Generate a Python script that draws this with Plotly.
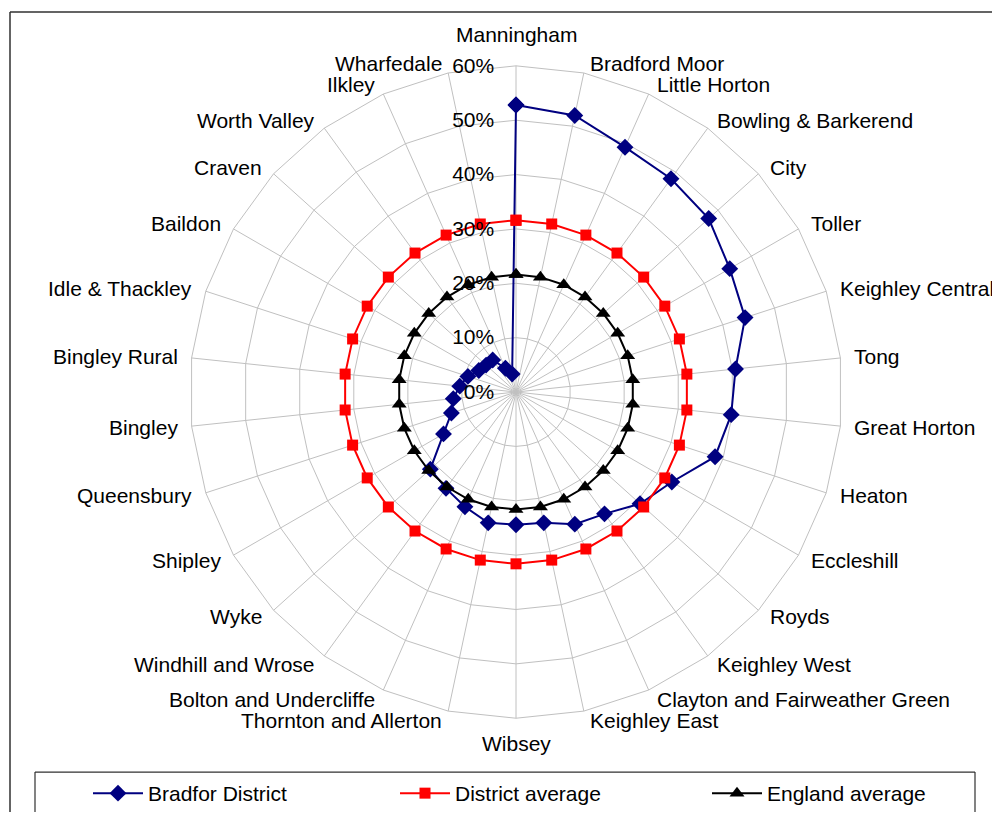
import math
import plotly.graph_objects as go

# Wards of Bradford District, clockwise from the top
wards = [
    "Manningham", "Bradford Moor", "Little Horton", "Bowling & Barkerend", "City",
    "Toller", "Keighley Central", "Tong", "Great Horton", "Heaton",
    "Eccleshill", "Royds", "Keighley West", "Clayton and Fairweather Green", "Keighley East",
    "Wibsey", "Thornton and Allerton", "Bolton and Undercliffe", "Windhill and Wrose", "Wyke",
    "Shipley", "Queensbury", "Bingley", "Bingley Rural", "Idle & Thackley",
    "Baildon", "Craven", "Worth Valley", "Ilkley", "Wharfedale",
]

# Ward values (%)
bradford_district = [
    52.8, 52.0, 49.3, 48.5, 47.7,
    45.4, 44.3, 40.6, 39.8, 38.5,
    33.1, 30.7, 27.7, 26.6, 24.6,
    24.4, 24.6, 23.1, 21.9, 21.2,
    15.4, 12.5, 11.6, 10.4, 9.3,
    7.9, 7.4, 7.3, 4.8, 3.4,
]
district_average = [31.6] * len(wards)
england_average = [21.6] * len(wards)

radial_ticks = [0, 10, 20, 30, 40, 50, 60]
radial_ticktext = ["0%", "10%", "20%", "30%", "40%", "50%", "60%"]

FONT = "Liberation Sans, Arial, sans-serif"
GRID = "#c0c0c0"
W, H = 992, 814
cx, cy, R = 516, 393, 327   # polar centre and outer radius, in pixels


def closed(values):
    return list(values) + [values[0]]


def px_x(x):
    return x / W


def px_y(y):
    return (H - y) / H


fig = go.Figure()

series = [
    ("Bradfor District", bradford_district, "#000080", "diamond", 13, "legend", 88),
    ("District average", district_average, "#ff0000", "square", 11, "legend2", 395),
    ("England average", england_average, "#000000", "triangle-up", 13, "legend3", 707),
]
legends = {}
for name, vals, color, symbol, size, leg, lx in series:
    fig.add_trace(go.Scatterpolar(
        r=closed(vals),
        theta=closed(wards),
        name=name,
        legend=leg,
        mode="lines+markers",
        line=dict(color=color, width=2),
        marker=dict(color=color, symbol=symbol, size=size),
    ))
    legends[leg] = dict(
        orientation="h",
        x=px_x(lx), xanchor="left",
        y=px_y(775), yanchor="top",
        bgcolor="rgba(0,0,0,0)",
        font=dict(family=FONT, size=21, color="black"),
        itemwidth=50,
    )

# Ward names sit just outside the outer polygon, beside each spoke end
annotations = []
n = len(wards)
for i, name in enumerate(wards):
    th = math.radians(360.0 * i / n)
    s, c = math.sin(th), math.cos(th)
    vx, vy = cx + R * s, cy - R * c
    if abs(s) < 1e-6:
        x, xanchor = vx, "center"
        y = vy - 31 if c > 0 else vy + 25
    else:
        x = vx + math.copysign(2 + 9 * abs(s), s)
        xanchor = "left" if s > 0 else "right"
        y = vy - 10 * c
    annotations.append(dict(
        x=px_x(x), y=px_y(y), xref="paper", yref="paper",
        text=name, showarrow=False, xanchor=xanchor, yanchor="middle",
        font=dict(family=FONT, size=21, color="black"),
    ))

frame = "#303030"
fig.update_layout(
    width=W, height=H,
    margin=dict(l=0, r=0, t=0, b=0),
    paper_bgcolor="white",
    font=dict(family=FONT, size=20, color="black"),
    polar=dict(
        domain=dict(x=[px_x(cx - R), px_x(cx + R)],
                    y=[px_y(cy + R), px_y(cy - R)]),
        bgcolor="white",
        gridshape="linear",
        angularaxis=dict(
            direction="clockwise",
            rotation=90,
            categoryorder="array",
            categoryarray=wards,
            showgrid=True, gridcolor=GRID, gridwidth=1,
            showline=True, linecolor=GRID, linewidth=1,
            ticks="", showticklabels=False,
        ),
        radialaxis=dict(
            range=[0, 60],
            tickvals=radial_ticks,
            ticktext=radial_ticktext,
            angle=90,
            side="counterclockwise",
            tickangle=90,
            showline=False,
            showgrid=True, gridcolor=GRID, gridwidth=1,
            ticks="outside", ticklen=14, tickcolor="rgba(0,0,0,0)",
            tickfont=dict(family=FONT, size=21, color="black"),
        ),
    ),
    showlegend=True,
    annotations=annotations,
    shapes=[
        # chart frame: left and top edges
        dict(type="line", xref="paper", yref="paper",
             x0=px_x(10), x1=px_x(10), y0=0, y1=px_y(12),
             line=dict(color=frame, width=1.5)),
        dict(type="line", xref="paper", yref="paper",
             x0=px_x(10), x1=1, y0=px_y(12), y1=px_y(12),
             line=dict(color=frame, width=1.5)),
        # legend box: top, left and right edges
        dict(type="line", xref="paper", yref="paper",
             x0=px_x(35), x1=px_x(975), y0=px_y(774), y1=px_y(774),
             line=dict(color=frame, width=1.2)),
        dict(type="line", xref="paper", yref="paper",
             x0=px_x(35), x1=px_x(35), y0=0, y1=px_y(774),
             line=dict(color=frame, width=1.2)),
        dict(type="line", xref="paper", yref="paper",
             x0=px_x(975), x1=px_x(975), y0=0, y1=px_y(774),
             line=dict(color=frame, width=1.2)),
    ],
    **legends,
)

fig.write_html("out.html")
